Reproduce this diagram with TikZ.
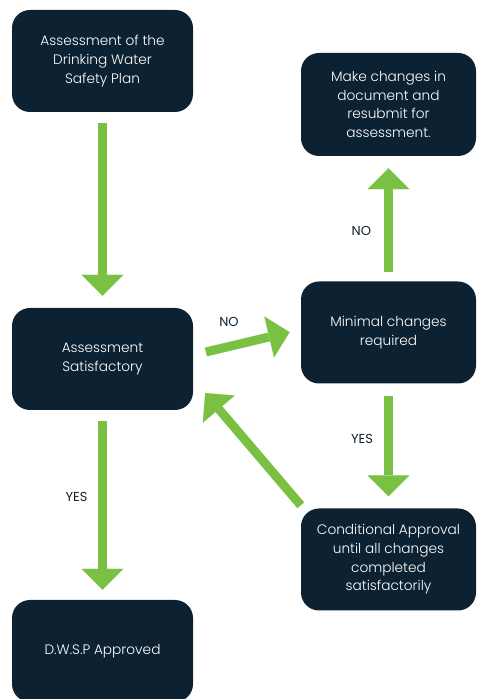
\documentclass[tikz,border=0pt]{standalone}
\usepackage{fontspec}
\setmainfont{Poppins}[UprightFont={* Light}]
\newfontfamily\answerfont{Poppins}
\usetikzlibrary{arrows.meta}
\definecolor{boxnavy}{HTML}{0C2233}
\definecolor{arrowgreen}{HTML}{7AC143}

\begin{document}
\begin{tikzpicture}[x=1pt, y=1pt,
        stage/.style={rectangle, rounded corners=18pt, fill=boxnavy, text=white,
            minimum width=181pt, minimum height=102pt, align=center,
            font=\fontsize{13.7}{18.7}\selectfont},
        flow/.style={draw=arrowgreen, line width=9pt,
            -{Triangle[width=42pt, length=21pt, line width=0.1pt]}},
        answer/.style={inner sep=0pt, text=boxnavy, font=\answerfont\fontsize{13}{15}\selectfont}]
        \useasboundingbox (0,0) rectangle (477,699);
        \node (plan) [stage] at (102.5,638) {Assessment of the\\Drinking Water\\Safety Plan};
        \node (check) [stage] at (102.5,340) {Assessment\\Satisfactory};
        \node (approved) [stage] at (102.5,48) {D.W.S.P Approved};
        \node (make) [stage, minimum width=175pt, minimum height=103pt] at (388.5,594.5) {Make changes in\\document and\\resubmit for\\assessment.};
        \node (minimal) [stage, minimum width=175pt] at (388.5,366.5) {Minimal changes\\required};
        \node (cond) [stage, minimum width=175pt] at (388.5,139.5) {Conditional Approval\\until all changes\\completed\\satisfactorily};
        \draw [flow, shorten <=11pt, shorten >=12pt] (plan) -- (check);
        \draw [flow, shorten <=11pt, shorten >=10pt] (check) -- node [answer, pos=0.458, left=10.5pt] {YES} (approved);
        \draw [flow, shorten <=13pt, shorten >=11.5pt] ([yshift=4pt]check.east) -- node [answer, pos=0.333, above=15pt] {NO} ([yshift=3pt]minimal.west);
        \draw [flow, shorten <=9pt, shorten >=12pt] (minimal) -- node [answer, pos=0.405, left=13pt] {NO} (make);
        \draw [flow, shorten <=12pt, shorten >=12pt] (minimal) -- node [answer, pos=0.444, left=11pt] {YES} (cond);
        \draw [flow, shorten >=18.5pt] ([yshift=3pt]cond.north west) -- ([yshift=-20pt]check.east);
    \end{tikzpicture}
\end{document}
